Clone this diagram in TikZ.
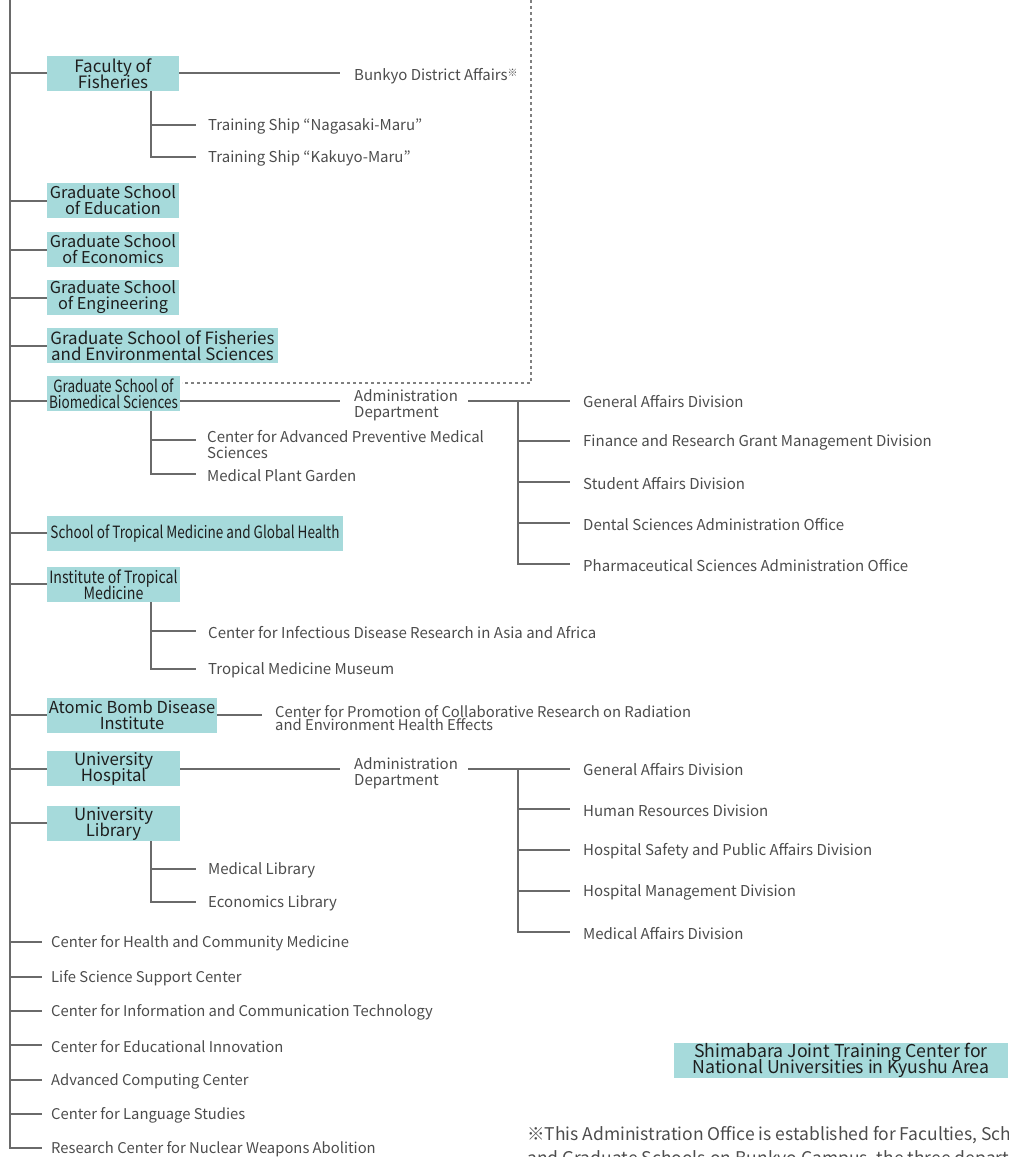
\documentclass[tikz,border=0pt]{standalone}
\usepackage{fontspec}
\setmainfont{Noto Sans CJK JP}
\newfontfamily\condfamily[FakeStretch=0.80]{Noto Sans CJK JP}
\newfontfamily\semicondfamily[FakeStretch=0.84]{Noto Sans CJK JP}
\definecolor{lineC}{HTML}{6A6A6A}
\definecolor{boxC}{HTML}{A6DADB}
\definecolor{boxT}{HTML}{1E1E1E}
\definecolor{lblC}{HTML}{4C4C4C}
\newcommand\tight{\lineskiplimit=-30pt\relax}
\newcommand\lblf{\fontsize{15}{16}\selectfont\tight}
\newcommand\boxf{\fontsize{16.3}{16}\selectfont\tight}
\newcommand\condf{\condfamily\fontsize{16.9}{16}\selectfont\tight}
\newcommand\semicondf{\semicondfamily\fontsize{16.9}{16}\selectfont\tight}
\newcommand\kome{\raisebox{0.6ex}{\fontsize{10}{10}\selectfont ※}}
\tikzset{
  ln/.style={draw=lineC, line width=1.6pt},
  dln/.style={draw=lineC!85, line width=1.6pt, dash pattern=on 3pt off 3pt},
  unit/.style={fill=boxC, inner sep=0pt, text=boxT, font=\boxf, align=center, minimum height=35},
  cunit/.style={unit, font=\condf},
  lbl/.style={anchor=west, inner sep=0pt, text=lblC, font=\lblf, align=left, yshift=-1.5pt},
}
\begin{document}
\begin{tikzpicture}[x=1pt,y=-1pt]
\useasboundingbox (0,0) rectangle (1009,1157);
\begin{scope}
\clip (0,0) rectangle (1009,1157);
% trunk
\coordinate (ttop) at (10,0);
\coordinate (tbot) at (10,1148);
\draw[ln] (ttop) -- (tbot) -- (42,1148);

% boxes
\node[unit, font=\fontsize{17}{16}\selectfont\tight, minimum width=132] (fish) at (113,73.5) {Faculty of\\Fisheries};
\node[unit, minimum width=132] (edu) at (113,200.5) {Graduate School\\of Education};
\node[unit, minimum width=132] (econ) at (113,249.5) {Graduate School\\of Economics};
\node[unit, minimum width=132] (eng) at (113,297.5) {Graduate School\\of Engineering};
\node[unit, font=\fontsize{16.9}{16}\selectfont\tight, minimum width=231] (fenv) at (162.5,345.5) {Graduate School of Fisheries\\and Environmental Sciences};
\node[cunit, minimum width=133] (bio) at (113.5,393.5) {Graduate School of\\Biomedical Sciences};
\node[cunit, minimum width=296] (trop) at (195,533.5) {School of Tropical Medicine and Global Health};
\node[unit, font=\semicondf, minimum width=133] (inst) at (113.5,584.5) {Institute of Tropical\\Medicine};
\node[unit, font=\fontsize{16.5}{16}\selectfont\tight, minimum width=170] (abd) at (132,715.5) {Atomic Bomb Disease\\Institute};
\node[unit, font=\fontsize{16.8}{16}\selectfont\tight, minimum width=133] (hosp) at (113.5,768.5) {University\\Hospital};
\node[unit, font=\fontsize{16.8}{16}\selectfont\tight, minimum width=133] (lib) at (113.5,823.5) {University\\Library};
\node[unit, font=\fontsize{17.7}{16.5}\selectfont\tight, minimum width=334] (shim) at (841,1060.5) {Shimabara Joint Training Center for\\National Universities in Kyushu Area};

% trunk branches
\foreach \n/\y in {fish/73,edu/201,econ/250,eng/298,fenv/346,bio/401,trop/533,inst/584,abd/715,hosp/769,lib/823}
  \draw[ln] (10,\y) -- (\n.west |- 0,\y);

% Faculty of Fisheries
\node[lbl] (bunkyo) at (354,75) {Bunkyo District Affairs\kome};
\draw[ln] (fish.east |- 0,73) -- (340,73);
\node[lbl] (naga) at (208,125) {Training Ship “Nagasaki-Maru”};
\node[lbl] (kaku) at (208,157) {Training Ship “Kakuyo-Maru”};
\draw[ln] (fish.south -| 151,0) -- (151,157) -- (196,157);
\draw[ln] (151,125) -- (196,125);

% dashed link
\draw[dln] (531,0) -- (531,383) -- (182,383);

% Biomedical
\node[lbl] (bioad) at (354,404) {Administration\\Department};
\draw[ln] (bio.east |- 0,401) -- (340,401);
\draw[ln] (468,401) -- (570,401);
\draw[ln] (518,401) -- (518,564) -- (570,564);
\foreach \y in {441,482,523} \draw[ln] (518,\y) -- (570,\y);
\node[lbl] (bd1) at (583,400) {General Affairs Division};
\node[lbl] (bd2) at (583,441) {Finance and Research Grant Management Division};
\node[lbl] (bd3) at (583,482) {Student Affairs Division};
\node[lbl] (bd4) at (583,523) {Dental Sciences Administration Office};
\node[lbl] (bd5) at (583,564) {Pharmaceutical Sciences Administration Office};
\node[lbl] (capm) at (207,443) {Center for Advanced Preventive Medical\\Sciences};
\node[lbl] (mpg) at (207,474) {Medical Plant Garden};
\draw[ln] (bio.south -| 151,0) -- (151,474) -- (196,474);
\draw[ln] (151,440) -- (196,440);

% Institute of Tropical Medicine
\node[lbl] (cidr) at (208,631) {Center for Infectious Disease Research in Asia and Africa};
\node[lbl] (tmm) at (208,669) {Tropical Medicine Museum};
\draw[ln] (inst.south -| 151,0) -- (151,669) -- (196,669);
\draw[ln] (151,631) -- (196,631);

% Atomic Bomb
\node[lbl, font=\fontsize{14.8}{13}\selectfont\tight] (cpcr) at (275,717) {Center for Promotion of Collaborative Research on Radiation\\and Environment Health Effects};
\draw[ln] (abd.east |- 0,715) -- (262,715);

% Hospital
\node[lbl] (hosad) at (354,772) {Administration\\Department};
\draw[ln] (hosp.east |- 0,769) -- (340,769);
\draw[ln] (468,769) -- (570,769);
\draw[ln] (518,769) -- (518,932) -- (570,932);
\foreach \y in {809,850,891} \draw[ln] (518,\y) -- (570,\y);
\node[lbl] (hd1) at (583,768) {General Affairs Division};
\node[lbl] (hd2) at (583,809) {Human Resources Division};
\node[lbl] (hd3) at (583,850) {Hospital Safety and Public Affairs Division};
\node[lbl] (hd4) at (583,891) {Hospital Management Division};
\node[lbl] (hd5) at (583,932) {Medical Affairs Division};

% Library
\node[lbl] (mlib) at (208,869) {Medical Library};
\node[lbl] (elib) at (208,902) {Economics Library};
\draw[ln] (lib.south -| 151,0) -- (151,902) -- (196,902);
\draw[ln] (151,869) -- (196,869);

% centers list
\foreach \y/\t [count=\i] in {942/Center for Health and Community Medicine,977/Life Science Support Center,1011/Center for Information and Communication Technology,1045/Center for Educational Innovation,1080/Advanced Computing Center,1114/Center for Language Studies,1148/Research Center for Nuclear Weapons Abolition}{
  \node[lbl, font=\fontsize{14.8}{16}\selectfont] (c\i) at (51,\y) {\t};
  \draw[ln] (10,\y) -- (42,\y);
}

% note
\node[anchor=north west, inner sep=0pt, text=lblC, font=\fontsize{17.5}{24}\selectfont\tight, align=left] (note) at (527,1126)
 {※This Administration Office is established for Faculties, Schools\\and Graduate Schools on Bunkyo Campus, the three departments};
\end{scope}
\end{tikzpicture}
\end{document}
